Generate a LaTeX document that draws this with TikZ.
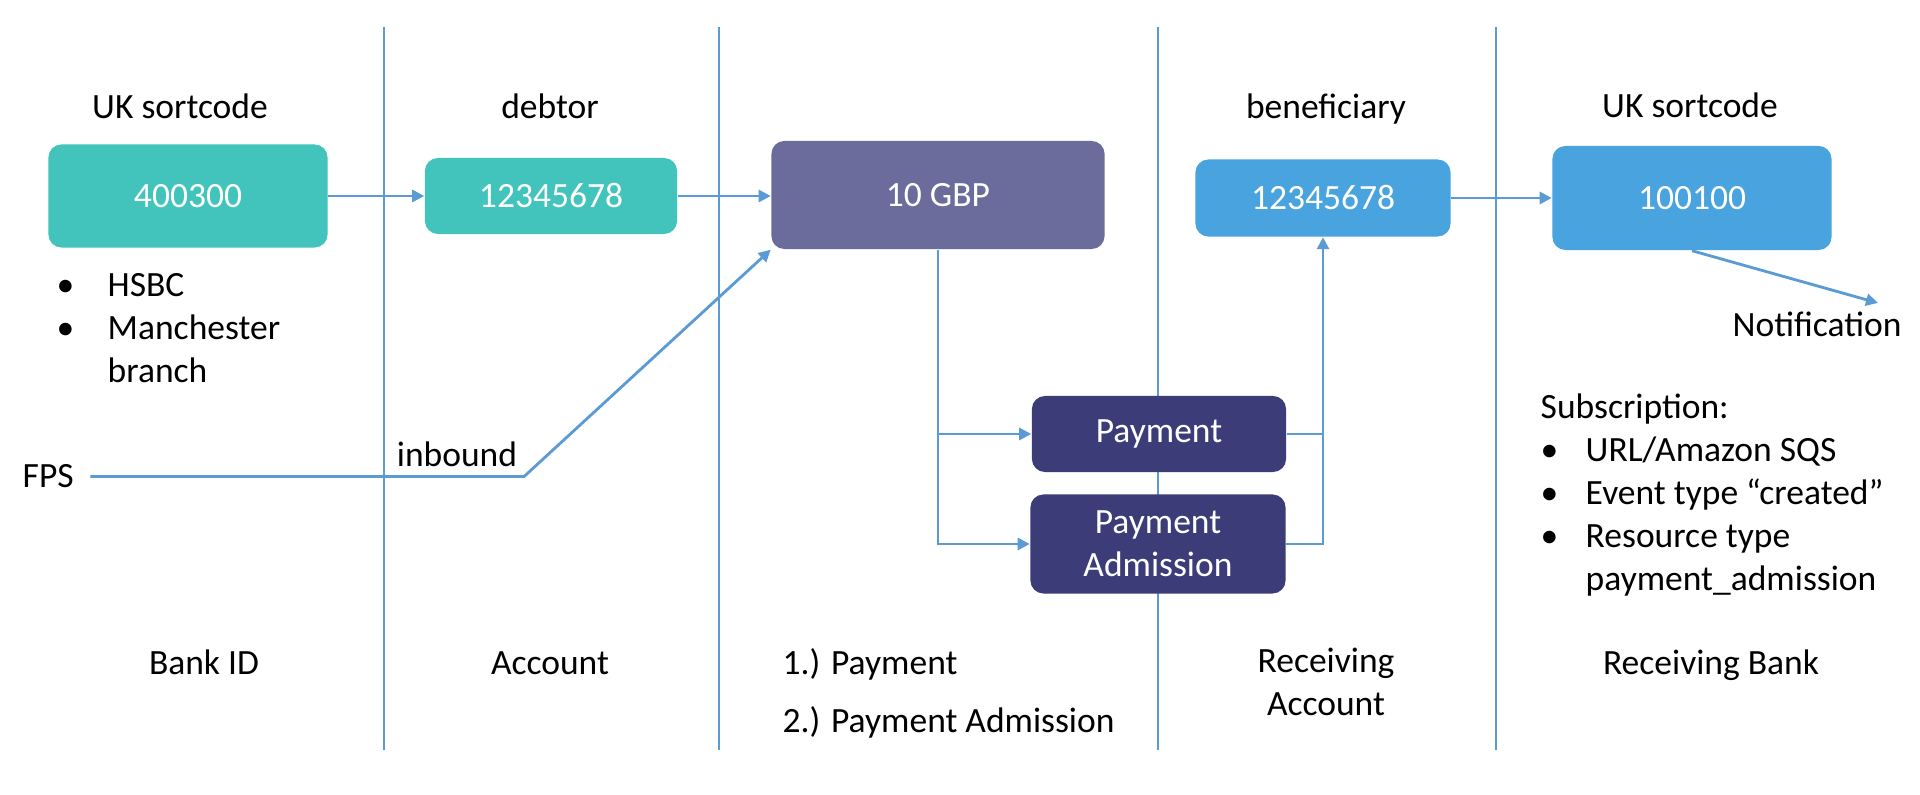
\documentclass[tikz,border=0pt]{standalone}
\usepackage{fontspec}
\setmainfont{Carlito}
\usetikzlibrary{arrows.meta}
\definecolor{tealc}{HTML}{42C4BD}
\definecolor{purplec}{HTML}{6C6C9C}
\definecolor{darkc}{HTML}{3C3C78}
\definecolor{bluec}{HTML}{48A3DE}
\definecolor{linec}{HTML}{5B9BD5}
\begin{document}
\begin{tikzpicture}[x=0.01cm,y=-0.01cm]
% estilos
\tikzset{
  every node/.style={font=\fontsize{10.1}{12.2}\selectfont},
  box/.style={rounded corners=0.13cm, text=white, inner sep=0pt, align=center},
  tealbox/.style={box, fill=tealc},
  purplebox/.style={box, fill=purplec},
  darkbox/.style={box, fill=darkc},
  bluebox/.style={box, fill=bluec},
  lbl/.style={inner sep=0pt, anchor=base},
  flow/.style={draw=linec, line width=0.8pt, -{Triangle[length=0.12cm,width=0.12cm]}},
  link/.style={draw=linec, line width=0.8pt},
  sep/.style={draw=linec, line width=0.4pt}
}
\fill[white] (0,0) rectangle (1920,795);
\useasboundingbox (0,0) rectangle (1920,795);

\foreach \x in {384,719,1158,1496}
  \draw[sep] (\x,27) -- (\x,750);

\node[tealbox, minimum width=2.79cm, minimum height=1.03cm] (bank) at (188,196) {400300};
\node[tealbox, minimum width=2.52cm, minimum height=0.76cm] (acct) at (551,196) {12345678};
\node[purplebox, minimum width=3.33cm, minimum height=1.08cm] (amount) at (938,195) {10 GBP};
\node[bluebox, minimum width=2.55cm, minimum height=0.77cm] (bene) at (1323,198) {12345678};
\node[bluebox, minimum width=2.79cm, minimum height=1.04cm] (rbank) at (1692,198) {100100};
\node[darkbox, minimum width=2.54cm, minimum height=0.76cm] (pay) at (1159,434) {Payment};
\node[darkbox, minimum width=2.55cm, minimum height=0.99cm] (adm) at (1158,544) {Payment\\Admission};

\node[lbl] (hbank) at (180,119) {UK sortcode};
\node[lbl] (hacct) at (550,119) {debtor};
\node[lbl] (hbene) at (1326,119) {beneficiary};
\node[lbl] (hrbank) at (1690,118) {UK sortcode};

\node[lbl, anchor=base west] (bankinfo) at (56,297)
  {\begin{tabular}[t]{@{}l@{}l@{}}\makebox[0.51cm][l]{\textbullet}&HSBC\\ \textbullet&Manchester\\ &branch\end{tabular}};
\node[lbl, anchor=base west] (fps) at (22,488) {FPS};
\node[lbl] (inb) at (457,467) {inbound};
\node[lbl] (notif) at (1817,337) {Notification};
\node[lbl, anchor=base west] (subs) at (1540,419)
  {\begin{tabular}[t]{@{}l@{}l@{}}\multicolumn{2}{@{}l@{}}{Subscription:}\\
   \makebox[0.45cm][l]{\textbullet}&URL/Amazon SQS\\
   \textbullet&Event type “created”\\
   \textbullet&Resource type\\
   &payment\_admission\end{tabular}};

\node[lbl] (fbank) at (204,675) {Bank ID};
\node[lbl] (facct) at (550,675) {Account};
\node[lbl, anchor=base west] (fpay1) at (782,675) {1.) Payment};
\node[lbl, anchor=base west] (fpay2) at (782,733) {2.) Payment Admission};
\node[lbl] (fbene) at (1326,673) {Receiving};
\node[lbl] (fbene2) at (1326,716) {Account};
\node[lbl] (frbank) at (1711,675) {Receiving Bank};

\coordinate (kink) at (524,478);
\coordinate (ntip) at (1878,303);

\draw[flow] (bank.east) -- (acct.west);
\draw[flow] (acct.east) -- (acct.east -| amount.west);
\draw[flow, shorten <=0.16cm] (fps.east) -- (fps.east -| kink) -- (amount.south west);
\draw[flow] (amount.south) |- (adm.west);
\draw[flow] (amount.south |- pay.west) -- (pay.west);
\draw[link] (pay.east) -- (pay.east -| bene.south);
\draw[flow] (adm.east) -| (bene.south);
\draw[flow] (bene.east) -- (bene.east -| rbank.west);
\draw[flow] (rbank.south) -- (ntip);
\end{tikzpicture}
\end{document}
